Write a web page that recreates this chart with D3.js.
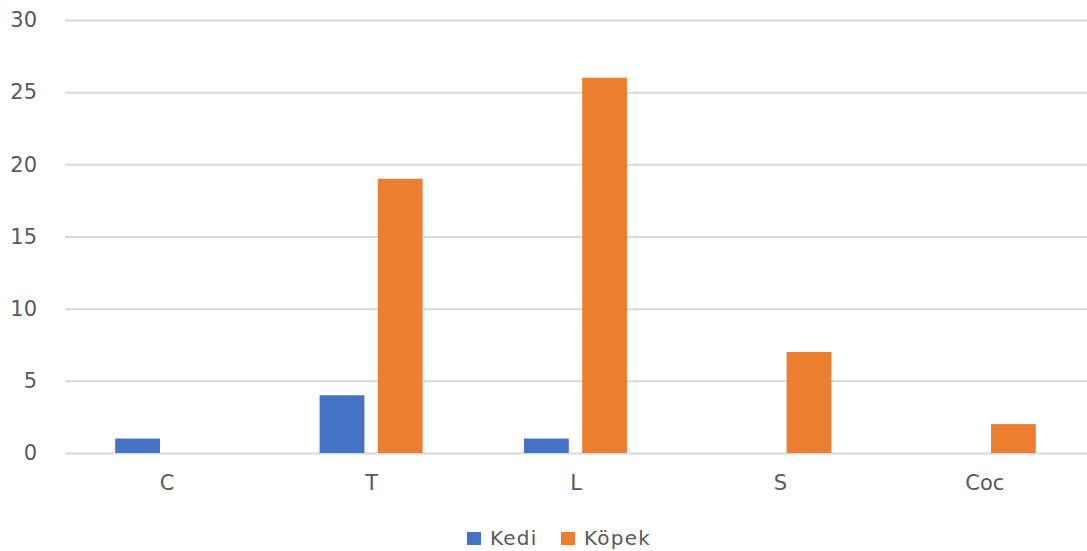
<!DOCTYPE html>
<html>
<head>
<meta charset="utf-8">
<script src="https://cdn.jsdelivr.net/npm/d3@7"></script>
<style>
  html, body { margin: 0; padding: 0; background: #fff; }
  svg { display: block; font-family: "DejaVu Sans", Verdana, sans-serif; }
</style>
</head>
<body>
<svg id="chart" width="1087" height="551"></svg>
<script>
const categories = ["C", "T", "L", "S", "Coc"];
const seriesNames = ["Kedi", "Köpek"];
const kedi = [1, 4, 1, 0, 0];
const kopek = [0, 19, 26, 7, 2];
const yTicks = [0, 5, 10, 15, 20, 25, 30];
const colors = ["#4472C4", "#ED7D31"];

const svg = d3.select("#chart");
const margin = { left: 65, right: 0 };
const W = 1087;

const x = d3.scaleBand().domain(categories).range([margin.left, W - margin.right]).paddingInner(0).paddingOuter(0);
const xs = d3.scaleBand().domain(seriesNames).range([-52, 51]).paddingInner(0.23).paddingOuter(0);
const y = d3.scaleLinear().domain([0, 30]).range([453, 20]);

// horizontal gridlines with value labels
const yAxis = d3.axisLeft(y).tickValues(yTicks).tickSize(-(W - margin.left)).tickPadding(28);
const gy = svg.append("g").attr("transform", `translate(${margin.left},0)`).call(yAxis);
gy.select(".domain").remove();
gy.selectAll(".tick line").attr("stroke", "#d9d9d9").attr("stroke-width", 2);
gy.selectAll(".tick text").attr("fill", "#595959").attr("font-size", 21).attr("font-family", "DejaVu Sans, sans-serif");

// clustered bars
const data = categories.map((c, i) => ({ c, vals: [kedi[i], kopek[i]] }));
const groups = svg.append("g").selectAll("g").data(data).join("g")
  .attr("transform", d => `translate(${x(d.c) + x.bandwidth() / 2},0)`);
groups.selectAll("rect")
  .data(d => d.vals.map((v, k) => ({ v, k })))
  .join("rect")
  .attr("x", d => xs(seriesNames[d.k]))
  .attr("width", xs.bandwidth())
  .attr("y", d => y(d.v))
  .attr("height", d => y(0) - y(d.v))
  .attr("fill", d => colors[d.k]);

// category labels
const xAxis = d3.axisBottom(x).tickSize(0).tickPadding(22);
const gx = svg.append("g").attr("transform", `translate(0,${y(0)})`).call(xAxis);
gx.select(".domain").remove();
gx.selectAll(".tick text").attr("fill", "#595959").attr("font-size", 21).attr("font-family", "DejaVu Sans, sans-serif");

// legend
const legendX = [467, 561];
const legend = svg.append("g").selectAll("g").data(seriesNames).join("g")
  .attr("transform", (d, i) => `translate(${legendX[i]},532)`);
legend.append("rect").attr("width", 14).attr("height", 13).attr("fill", (d, i) => colors[i]);
legend.append("text").attr("x", 23).attr("y", 13)
  .attr("fill", "#595959").attr("font-size", 20).attr("letter-spacing", 1.2)
  .text(d => d);
</script>
</body>
</html>
